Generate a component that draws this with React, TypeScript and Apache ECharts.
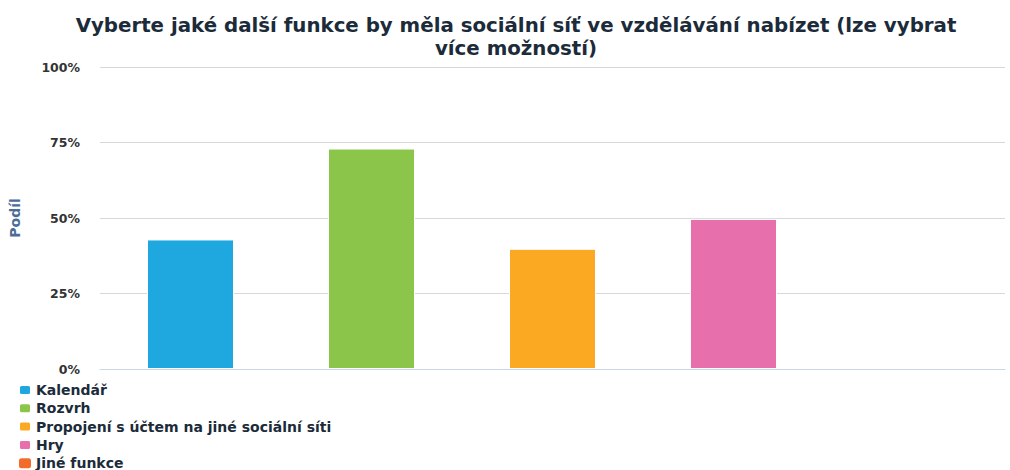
import React, { useEffect, useRef } from "react";
import * as echarts from "echarts";

const categories = ["Kalendář", "Rozvrh", "Propojení s účtem na jiné sociální síti", "Hry", "Jiné funkce"];
const values = [42.9, 73.0, 39.8, 49.7, 0];
const colors = ["#1fa8e0", "#8bc54a", "#fba922", "#e76fab", "#f26b2b"];
const yTicks = [0, 25, 50, 75, 100];

export default function App() {
  const ref = useRef<HTMLDivElement>(null);
  useEffect(() => {
    if (!ref.current) return;
    const chart = echarts.init(ref.current, null, { renderer: "svg" });
    const font = "DejaVu Sans";
    const series = categories.map((name, i) => ({
      name,
      type: "bar",
      stack: "all",
      barWidth: 87,
      itemStyle: { color: colors[i], borderColor: "#ffffff", borderWidth: values[i] > 0 ? 1 : 0 },
      data: categories.map((_, j) => (j === i ? values[i] : null)),
    }));
    chart.setOption({
      animation: false,
      color: colors,
      title: {
        text: "Vyberte jaké další funkce by měla sociální síť ve vzdělávání nabízet (lze vybrat\nvíce možností)",
        left: 511,
        top: 9,
        textAlign: "center",
        textStyle: { fontFamily: font, fontWeight: "bold", fontSize: 19.8, color: "#1c2b3a", lineHeight: 23 },
      },
      grid: { left: 100, right: 5, top: 67, bottom: 101 },
      legend: {
        orient: "vertical",
        left: 18,
        top: 383,
        height: 120,
        padding: 0,
        itemGap: 4.3,
        itemWidth: 12,
        itemHeight: 10,
        icon: "roundRect",
        textStyle: { fontFamily: font, fontWeight: "bold", fontSize: 14, lineHeight: 14, color: "#1c2b3a" },
        data: categories,
      },
      xAxis: {
        type: "category",
        data: categories,
        axisLine: { lineStyle: { color: "#ccd6eb" } },
        axisTick: { alignWithLabel: true, length: 5, lineStyle: { color: "#ccd6eb" } },
        axisLabel: { show: false },
      },
      yAxis: {
        type: "value",
        min: yTicks[0],
        max: yTicks[yTicks.length - 1],
        interval: 25,
        name: "Podíl",
        nameLocation: "middle",
        nameRotate: 90,
        nameGap: 78,
        nameTextStyle: { fontFamily: font, fontWeight: "bold", fontSize: 14, color: "#4d6d99" },
        axisLabel: {
          formatter: "{value}%",
          fontFamily: font,
          fontWeight: "bold",
          fontSize: 12.5,
          color: "#333333",
          margin: 20,
        },
        splitLine: { lineStyle: { color: "#d8d8d8" } },
      },
      series,
    });
    return () => chart.dispose();
  }, []);
  return <div ref={ref} style={{ position: "fixed", left: 0, top: 0, width: 1010, height: 470, background: "#fff" }} />;
}
